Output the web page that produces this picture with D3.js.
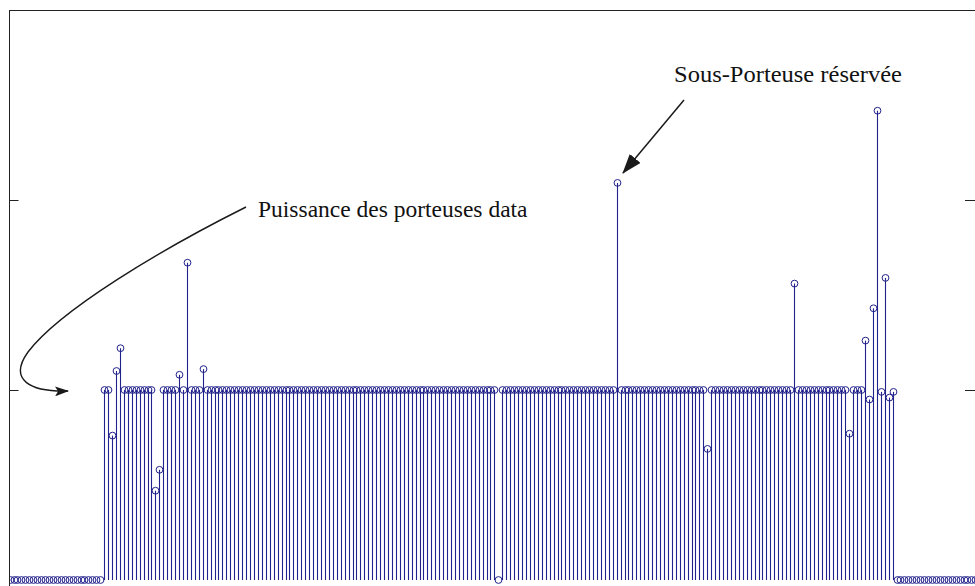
<!DOCTYPE html>
<html>
<head>
<meta charset="utf-8">
<script src="https://cdn.jsdelivr.net/npm/d3@7"></script>
<style>
  html, body { margin: 0; padding: 0; background: #fff; }
  svg { display: block; }
</style>
</head>
<body>
<svg id="chart" width="975" height="586"></svg>
<script>
// Subcarrier indices (256-point FFT)
const carrierIndex = d3.range(256);
// Power per subcarrier
const carrierPower = [
  0,0,0,0,0,0,0,0,0,0,0,0,0,0,0,0,
  0,0,0,0,0,0,0,0,0,0,0,0,1,1,0.76,1.1,
  1.22,1,1,1,1,1,1,1,1,0.47,0.58,1,1,1,1,1.08,
  1,1.67,1,1,1,1.11,1,1,1,1,1,1,1,1,1,1,
  1,1,1,1,1,1,1,1,1,1,1,1,1,1,1,1,
  1,1,1,1,1,1,1,1,1,1,1,1,1,1,1,1,
  1,1,1,1,1,1,1,1,1,1,1,1,1,1,1,1,
  1,1,1,1,1,1,1,1,1,1,1,1,1,1,1,1,
  0,1,1,1,1,1,1,1,1,1,1,1,1,1,1,1,
  1,1,1,1,1,1,1,1,1,1,1,1,1,1,2.09,1,
  1,1,1,1,1,1,1,1,1,1,1,1,1,1,1,1,
  1,1,1,1,1,0.69,1,1,1,1,1,1,1,1,1,1,
  1,1,1,1,1,1,1,1,1,1,1,1.56,1,1,1,1,
  1,1,1,1,1,1,1,1,1,0.77,1,1,1,1.26,0.95,1.43,
  2.47,0.99,1.59,0.96,0.99,0,0,0,0,0,0,0,0,0,0,0,
  0,0,0,0,0,0,0,0,0,0,0,0,0,0,0,0
];
const yTickValues = [1, 2];
const annotations = [
  { text: "Sous-Porteuse réservée" },
  { text: "Puissance des porteuses data" }
];

const svg = d3.select("#chart");
const W = 975, H = 586;
const frame = { left: 9, top: 10, right: 975.5, bottom: 587 };

const x = d3.scaleLinear().domain([0, 255]).range([-6.2, 999.0]);
const y = d3.scaleLinear().domain([0, 3]).range([580, 10]);

const stemColor = "#22228c";

const defs = svg.append("defs");
defs.append("clipPath").attr("id", "clip")
  .append("rect")
  .attr("x", frame.left).attr("y", frame.top)
  .attr("width", frame.right - frame.left)
  .attr("height", frame.bottom - frame.top);

defs.append("marker")
  .attr("id", "ahBig").attr("viewBox", "0 0 20 14")
  .attr("refX", 19).attr("refY", 7)
  .attr("markerWidth", 20).attr("markerHeight", 14)
  .attr("markerUnits", "userSpaceOnUse")
  .attr("orient", "auto")
  .append("path").attr("d", "M0,0 L20,7 L0,14 Z").attr("fill", "#1a1a1a");
defs.append("marker")
  .attr("id", "ahSmall").attr("viewBox", "0 0 14 10")
  .attr("refX", 13).attr("refY", 5)
  .attr("markerWidth", 14).attr("markerHeight", 10)
  .attr("markerUnits", "userSpaceOnUse")
  .attr("orient", "auto")
  .append("path").attr("d", "M0,0 L14,5 L0,10 L3,5 Z").attr("fill", "#1a1a1a");

const data = carrierIndex.map((i) => ({ i, v: carrierPower[i] }));

const plot = svg.append("g").attr("clip-path", "url(#clip)");

plot.selectAll("line.stem")
  .data(data.filter(d => d.v > 0))
  .join("line")
  .attr("class", "stem")
  .attr("x1", d => Math.round(x(d.i)) + 0.5).attr("x2", d => Math.round(x(d.i)) + 0.5)
  .attr("y1", y(0)).attr("y2", d => y(d.v))
  .attr("stroke", stemColor).attr("stroke-width", 1.1);

plot.selectAll("circle.mk")
  .data(data)
  .join("circle")
  .attr("class", "mk")
  .attr("cx", d => Math.round(x(d.i)) + 0.5).attr("cy", d => y(d.v))
  .attr("r", 3.4)
  .attr("fill", "none")
  .attr("stroke", stemColor).attr("stroke-width", 1);

// frame
svg.append("rect")
  .attr("x", frame.left + 0.5).attr("y", frame.top + 0.5)
  .attr("width", frame.right - frame.left)
  .attr("height", frame.bottom - frame.top)
  .attr("fill", "none").attr("stroke", "#222").attr("stroke-width", 1);

// y ticks (left and right, inward)
const leftAxis = d3.axisRight(y).tickValues(yTickValues).tickSize(9).tickFormat("");
const gL = svg.append("g").attr("transform", `translate(${frame.left + 0.5},0)`).call(leftAxis);
gL.select(".domain").remove();
gL.selectAll("line").attr("stroke", "#222");
const rightAxis = d3.axisLeft(y).tickValues(yTickValues).tickSize(10).tickFormat("");
const gR = svg.append("g").attr("transform", `translate(${W},0)`).call(rightAxis);
gR.select(".domain").remove();
gR.selectAll("line").attr("stroke", "#222");

// annotations
const font = "'Liberation Serif', 'Times New Roman', serif";
svg.append("text")
  .attr("x", 674).attr("y", 82)
  .attr("font-family", font).attr("font-size", 23.5)
  .attr("textLength", 228).attr("lengthAdjust", "spacingAndGlyphs")
  .attr("fill", "#111")
  .text(annotations[0].text);
svg.append("line")
  .attr("x1", 684).attr("y1", 100)
  .attr("x2", 623).attr("y2", 173)
  .attr("stroke", "#1a1a1a").attr("stroke-width", 1.5)
  .attr("marker-end", "url(#ahBig)");

svg.append("text")
  .attr("x", 258).attr("y", 217)
  .attr("font-family", font).attr("font-size", 23.5)
  .attr("fill", "#111")
  .text(annotations[1].text);
svg.append("path")
  .attr("d", "M246,207 C160,250 60,310 28,352 C8,380 30,392 68,391")
  .attr("fill", "none")
  .attr("stroke", "#1a1a1a").attr("stroke-width", 1.4)
  .attr("marker-end", "url(#ahSmall)");
</script>
</body>
</html>
